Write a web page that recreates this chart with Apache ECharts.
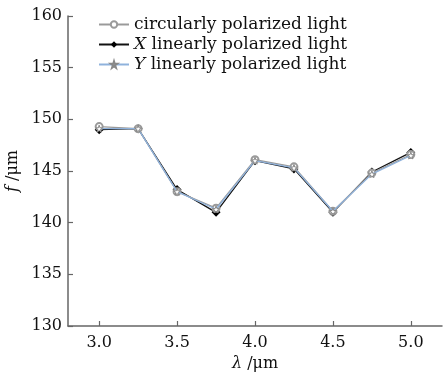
<!DOCTYPE html>
<html>
<head>
<meta charset="utf-8">
<script src="https://cdn.jsdelivr.net/npm/echarts@6/dist/echarts.min.js"></script>
<style>
  html, body { margin: 0; padding: 0; background: #fff; }
  #chart { width: 443px; height: 375px; }
</style>
</head>
<body>
<div id="chart"></div>
<script>
  // wavelength (μm)
  let wavelength = [3.0, 3.25, 3.5, 3.75, 4.0, 4.25, 4.5, 4.75, 5.0];
  let xTicks = [3.0, 3.5, 4.0, 4.5, 5.0];
  // focal length f (μm)
  let circular = [149.3, 149.1, 143.0, 141.4, 146.1, 145.4, 141.1, 144.8, 146.6];
  let xLinear = [149.0, 149.1, 143.2, 141.0, 146.0, 145.2, 141.0, 144.9, 146.8];
  let yLinear = [149.1, 149.1, 143.0, 141.3, 146.0, 145.3, 141.1, 144.7, 146.5];

  let font = '"DejaVu Serif", "Liberation Serif", serif';
  let chart = echarts.init(document.getElementById('chart'));

  function pairs(vals) {
    return wavelength.map((w, i) => [w, vals[i]]);
  }

  let italic16 = { fontFamily: font, fontSize: 16, fontStyle: 'italic', color: '#111' };
  let italic17 = { fontFamily: font, fontSize: 17, fontStyle: 'italic', color: '#111' };

  let option = {
    animation: false,
    backgroundColor: '#fff',
    textStyle: { fontFamily: font },
    grid: { left: 68, right: 1, top: 16, bottom: 49, containLabel: false, outerBoundsMode: 'none' },
    legend: {
      left: 98,
      top: 16,
      padding: 0,
      orient: 'vertical',
      itemWidth: 30,
      itemHeight: 8,
      itemGap: 3,
      textStyle: {
        fontFamily: font, fontSize: 17, color: '#111',
        rich: { i: italic17 }
      },
      formatter: function (name) {
        if (name.startsWith('X ')) return '{i|X}' + name.slice(1);
        if (name.startsWith('Y ')) return '{i|Y}' + name.slice(1);
        return name;
      },
      data: ['circularly polarized light', 'X linearly polarized light', 'Y linearly polarized light']
    },
    xAxis: {
      type: 'value',
      min: 2.8,
      max: 5.2,
      name: '{i|λ} /μm',
      nameLocation: 'middle',
      nameGap: 30,
      nameTextStyle: {
        fontFamily: font, fontSize: 16, color: '#111',
        rich: { i: italic16 }
      },
      axisLine: { lineStyle: { color: '#666', width: 1.5 } },
      axisTick: { inside: true, length: 5, customValues: xTicks, lineStyle: { color: '#666', width: 1.2 } },
      axisLabel: {
        customValues: xTicks,
        margin: 9,
        fontFamily: font, fontSize: 16, color: '#111',
        formatter: v => v.toFixed(1)
      },
      splitLine: { show: false }
    },
    yAxis: {
      type: 'value',
      min: 130,
      max: 160,
      interval: 5,
      name: '{i|f} /μm',
      nameLocation: 'middle',
      nameGap: 44,
      nameTextStyle: {
        fontFamily: font, fontSize: 16, color: '#111',
        rich: { i: italic16 }
      },
      axisLine: { show: true, lineStyle: { color: '#666', width: 1.5 } },
      axisTick: { show: true, inside: true, length: 5, lineStyle: { color: '#666', width: 1.2 } },
      axisLabel: { margin: 6, fontFamily: font, fontSize: 16, color: '#111' },
      splitLine: { show: false }
    },
    series: [
      {
        name: 'circularly polarized light',
        type: 'line',
        data: pairs(circular),
        symbol: 'emptyCircle',
        symbolSize: 7,
        z: 3,
        lineStyle: { color: '#9a9a9a', width: 1.3 },
        itemStyle: { color: '#9a9a9a', borderColor: '#8a8a8a', borderWidth: 1.2 }
      },
      {
        name: 'X linearly polarized light',
        type: 'line',
        data: pairs(xLinear),
        symbol: 'diamond',
        symbolSize: 9,
        z: 2,
        lineStyle: { color: '#111', width: 1.3 },
        itemStyle: { color: '#000' }
      },
      {
        name: 'Y linearly polarized light',
        type: 'line',
        data: pairs(yLinear),
        symbol: 'path://M50,0 L61,35 L98,35 L68,57 L79,91 L50,70 L21,91 L32,57 L2,35 L39,35 Z',
        symbolSize: 7,
        z: 4,
        lineStyle: { color: '#8fb2dc', width: 1.3 },
        itemStyle: { color: '#ffffff', borderColor: '#888', borderWidth: 1 }
      }
    ]
  };

  chart.setOption(option);
</script>
</body>
</html>
